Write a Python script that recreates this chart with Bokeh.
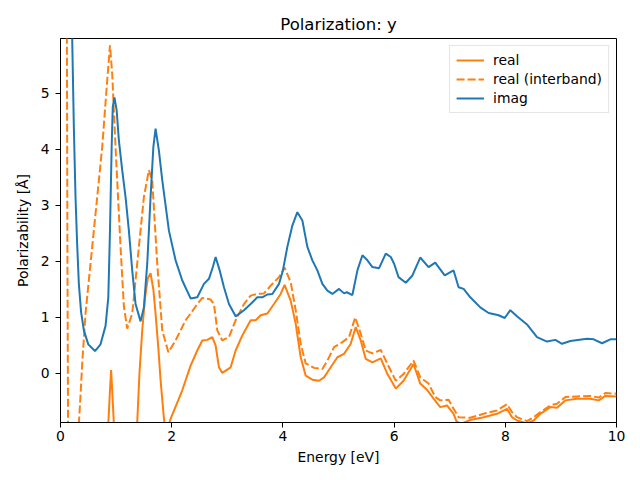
from bokeh.plotting import figure
from bokeh.models import FixedTicker, Range1d, Legend, LegendItem
from bokeh.embed import file_html
from bokeh.resources import INLINE

# ---- data ----
imag_x = [0.0, 0.1, 0.18, 0.21, 0.24, 0.27, 0.30, 0.33, 0.37, 0.42, 0.50, 0.62, 0.72, 0.81, 0.86,
          0.89, 0.92, 0.94, 0.97, 1.01, 1.05, 1.11, 1.17, 1.23, 1.29, 1.35, 1.44, 1.50, 1.56, 1.62,
          1.67, 1.71, 1.77, 1.83, 1.95, 2.07, 2.19, 2.34, 2.46, 2.58, 2.67, 2.74, 2.79, 2.86, 2.94,
          3.03, 3.15, 3.30, 3.42, 3.54, 3.63, 3.72, 3.81, 3.93, 4.00, 4.08, 4.17, 4.26, 4.35, 4.44,
          4.53, 4.62, 4.71, 4.80, 4.89, 5.01, 5.10, 5.15, 5.25, 5.34, 5.43, 5.52, 5.61, 5.73, 5.85,
          5.94, 6.00, 6.08, 6.21, 6.33, 6.47, 6.62, 6.74, 6.91, 7.07, 7.16, 7.25, 7.37, 7.55, 7.70,
          7.88, 7.99, 8.09, 8.21, 8.39, 8.57, 8.75, 8.90, 9.02, 9.17, 9.47, 9.59, 9.74, 9.89, 10.0]
imag_y = [60.0, 20.0, 8.5, 6.0, 4.4, 3.15, 2.3, 1.6, 1.1, 0.77, 0.52, 0.40, 0.52, 0.85, 1.36,
          2.55, 4.04, 4.76, 4.93, 4.70, 4.16, 3.63, 3.15, 2.55, 1.84, 1.24, 0.93, 1.18, 1.96, 3.15,
          4.04, 4.37, 3.98, 3.45, 2.55, 2.02, 1.66, 1.34, 1.36, 1.60, 1.69, 1.90, 2.08, 1.85, 1.54,
          1.24, 1.02, 1.13, 1.24, 1.36, 1.36, 1.41, 1.42, 1.60, 1.84, 2.26, 2.64, 2.88, 2.73, 2.26,
          2.02, 1.84, 1.60, 1.48, 1.42, 1.51, 1.43, 1.45, 1.40, 1.84, 2.11, 2.02, 1.90, 1.88, 2.14,
          2.08, 1.96, 1.72, 1.62, 1.75, 2.07, 1.90, 1.98, 1.75, 1.84, 1.54, 1.51, 1.36, 1.18, 1.08,
          1.04, 0.99, 1.13, 1.02, 0.875, 0.65, 0.57, 0.60, 0.53, 0.58, 0.62, 0.61, 0.54, 0.61, 0.61]

real_x = [0.0, 0.3, 0.6, 0.80, 0.86, 0.89, 0.91, 0.93, 0.96, 1.02, 1.2, 1.33, 1.38, 1.42, 1.47,
          1.52, 1.57, 1.62, 1.67, 1.71, 1.76, 1.80, 1.86, 1.89, 1.93, 2.00, 2.10, 2.19, 2.34, 2.46,
          2.55, 2.64, 2.73, 2.79, 2.85, 2.91, 3.06, 3.15, 3.27, 3.42, 3.51, 3.60, 3.72, 3.84, 3.96,
          4.03, 4.14, 4.23, 4.32, 4.41, 4.53, 4.65, 4.74, 4.86, 4.98, 5.10, 5.22, 5.31, 5.40, 5.49,
          5.61, 5.76, 5.88, 6.03, 6.17, 6.35, 6.47, 6.60, 6.71, 6.83, 6.95, 7.07, 7.12, 7.20, 7.37,
          7.61, 7.85, 8.03, 8.12, 8.21, 8.39, 8.51, 8.63, 8.81, 8.93, 9.08, 9.29, 9.53, 9.68, 9.80, 10.0]
real_y = [-30.0, -10.0, -5.0, -2.5, -0.9, -0.3, 0.06, -0.3, -0.9, -3.0, -4.0, -2.0, -0.88, 0.0, 0.77,
          1.35, 1.70, 1.79, 1.50, 1.07, 0.45, -0.12, -0.80, -1.0, -0.95, -0.76, -0.52, -0.30, 0.14, 0.41,
          0.59, 0.60, 0.65, 0.50, 0.11, 0.01, 0.11, 0.41, 0.68, 0.95, 0.95, 1.04, 1.07, 1.24, 1.42,
          1.58, 1.30, 0.89, 0.29, -0.04, -0.11, -0.13, -0.07, 0.11, 0.29, 0.35, 0.53, 0.83, 0.59, 0.26,
          0.20, 0.27, -0.01, -0.27, -0.13, 0.17, -0.18, -0.30, -0.45, -0.60, -0.57, -0.72, -0.85, -0.90, -0.83,
          -0.78, -0.72, -0.63, -0.78, -0.84, -0.89, -0.84, -0.72, -0.60, -0.61, -0.48, -0.45, -0.45, -0.48, -0.40, -0.41]

inter_x = [0.0, 0.08, 0.11, 0.125, 0.14, 0.2, 0.28, 0.33, 0.36, 0.39, 0.45, 0.54, 0.63, 0.75, 0.84,
           0.89, 0.93, 0.99, 1.08, 1.14, 1.20, 1.29, 1.41, 1.50, 1.59, 1.65, 1.74, 1.83, 1.94, 2.07,
           2.25, 2.34, 2.46, 2.55, 2.70, 2.76, 2.82, 2.91, 3.03, 3.15, 3.30, 3.42, 3.54, 3.66, 3.81,
           3.93, 4.03, 4.14, 4.23, 4.32, 4.41, 4.56, 4.71, 4.80, 4.92, 5.07, 5.19, 5.30, 5.40, 5.49,
           5.61, 5.76, 5.88, 6.03, 6.17, 6.35, 6.47, 6.62, 6.74, 6.83, 6.98, 7.07, 7.16, 7.37, 7.61,
           7.85, 8.03, 8.12, 8.21, 8.39, 8.51, 8.63, 8.81, 8.93, 9.08, 9.29, 9.53, 9.68, 9.80, 10.0]
inter_y = [40.0, 15.0, 8.0, 2.0, -2.0, -5.0, -3.0, -0.9, -0.4, 0.17, 1.07, 1.96, 2.85, 4.04, 5.23,
           5.86, 5.35, 4.04, 2.26, 1.20, 0.80, 1.07, 2.26, 3.15, 3.63, 3.45, 1.96, 0.77, 0.38, 0.59,
           0.95, 1.07, 1.24, 1.35, 1.32, 1.24, 0.77, 0.59, 0.65, 0.95, 1.24, 1.39, 1.42, 1.43, 1.60,
           1.72, 1.89, 1.63, 1.13, 0.53, 0.18, 0.10, 0.08, 0.23, 0.47, 0.56, 0.65, 1.00, 0.71, 0.41,
           0.36, 0.42, 0.17, -0.13, -0.01, 0.23, -0.07, -0.18, -0.42, -0.48, -0.47, -0.63, -0.78, -0.79, -0.72,
           -0.66, -0.55, -0.69, -0.78, -0.85, -0.78, -0.69, -0.57, -0.54, -0.42, -0.41, -0.40, -0.43, -0.35, -0.36]

x_ticks = [0, 2, 4, 6, 8, 10]
y_ticks = [0, 1, 2, 3, 4, 5]

ORANGE = "#ff7f0e"
BLUE = "#1f77b4"
FONT = "DejaVu Sans"

p = figure(frame_width=556, frame_height=384, output_backend="svg", toolbar_location=None,
           x_range=Range1d(0, 10), y_range=Range1d(-0.875, 5.98),
           min_border_left=60, min_border_right=24, min_border_top=38, min_border_bottom=58,
           title="Polarization: y")
p.title.align = "center"
p.title.text_font = FONT
p.title.text_font_size = "16.5px"
p.title.text_font_style = "normal"
p.title.text_color = "black"
p.title.standoff = 9

r1 = p.line(real_x, real_y, line_color=ORANGE, line_width=2)
r2 = p.line(inter_x, inter_y, line_color=ORANGE, line_width=2, line_dash="8 3")
r3 = p.line(imag_x, imag_y, line_color=BLUE, line_width=2)

p.xgrid.visible = False
p.ygrid.visible = False
p.outline_line_color = "black"
p.outline_line_width = 1
p.outline_line_alpha = 1
p.background_fill_color = "white"
p.border_fill_color = "white"

for ax, ticks, label in ((p.xaxis[0], x_ticks, "Energy [eV]"), (p.yaxis[0], y_ticks, "Polarizability [Å]")):
    ax.ticker = FixedTicker(ticks=ticks)
    ax.axis_label = label
    ax.axis_label_text_font = FONT
    ax.axis_label_text_font_size = "13.9px"
    ax.axis_label_text_font_style = "normal"
    ax.axis_label_text_color = "black"
    ax.major_label_text_font = FONT
    ax.major_label_text_font_size = "13.9px"
    ax.major_label_text_color = "black"
    ax.major_tick_in = 0
    ax.major_tick_out = 5
    ax.major_tick_line_color = "black"
    ax.minor_tick_line_color = None
    ax.axis_line_color = "black"
    ax.major_label_standoff = 3
    ax.axis_label_standoff = 5
p.yaxis[0].major_label_standoff = 6
p.yaxis[0].axis_label_standoff = 7

legend = Legend(items=[LegendItem(label="real", renderers=[r1]),
                       LegendItem(label="real (interband)", renderers=[r2]),
                       LegendItem(label="imag", renderers=[r3])],
                location="top_right")
legend.label_text_font = FONT
legend.label_text_font_size = "13.9px"
legend.label_text_color = "black"
legend.glyph_width = 28
legend.glyph_height = 16
legend.label_height = 16
legend.spacing = 3
legend.padding = 6
legend.margin = 7
legend.label_standoff = 9
legend.border_line_color = "#cccccc"
legend.border_line_width = 1
legend.background_fill_alpha = 0.8
p.add_layout(legend)

open("out.html", "w").write(file_html(p, INLINE))
